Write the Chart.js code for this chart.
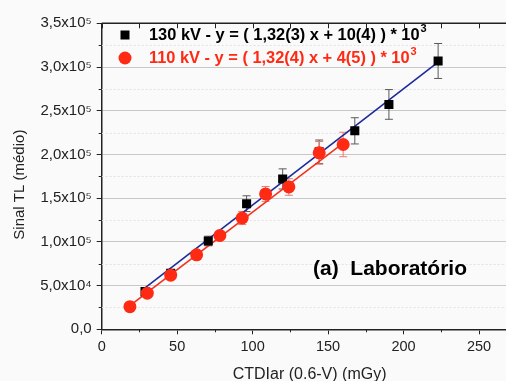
<!DOCTYPE html>
<html><head><meta charset="utf-8">
<script src="https://cdn.jsdelivr.net/npm/chart.js@4.4.1/dist/chart.umd.min.js"></script>
<style>html,body{margin:0;padding:0;background:#fafafa;overflow:hidden;}#wrap{width:524px;height:381px;position:relative;}</style>
</head><body><div id="wrap"><canvas id="c"></canvas></div>
<script>
// ---- data ----
const x130 = [28.7, 45.7, 70.6, 96.0, 119.9, 144.1, 167.7, 190.3, 222.9];
const y130 = [43100, 64200, 101000, 143700, 172000, 203000, 227000, 257200, 306900];
const err130 = [3000, 4000, 5500, 9000, 11500, 13500, 15000, 17000, 20000];
const x110 = [18.7, 30.2, 45.7, 62.9, 78.3, 93.1, 108.6, 124.0, 144.1, 160.0];
const y110 = [25900, 41300, 61900, 85200, 107300, 127300, 154800, 162800, 201800, 211400];
const err110 = [1500, 3000, 3500, 4000, 5000, 7500, 8500, 9500, 13000, 14000];
const fit130X = [28.7, 222.9];
const fit130Y = [47500, 305500];
const fit110X = [18.7, 160.0];
const fit110Y = [27000, 213000];
const xTicks = [0, 50, 100, 150, 200, 250];
const xTickLabels = ['0', '50', '100', '150', '200', '250'];
const xMinor = [25, 75, 125, 175, 225, 275];
const yTicks = [0, 50000, 100000, 150000, 200000, 250000, 300000, 350000];
const yTickLabels = ['0,0', '5,0x10⁴', '1,0x10⁵', '1,5x10⁵', '2,0x10⁵', '2,5x10⁵', '3,0x10⁵', '3,5x10⁵'];
const yMinor = [25000, 75000, 125000, 175000, 225000, 275000, 325000];
const legend130 = '130 kV - y = ( 1,32(3) x + 10(4) ) * 10';
const legend110 = '110 kV - y = ( 1,32(4) x + 4(5) ) * 10';
const legendSup = '3';
const panelLabel = '(a)  Laboratório';
const xTitle = 'CTDIar (0.6-V) (mGy)';
const yTitle = 'Sinal TL (médio)';

const RED = '#ff2a14';
const FONT = '"Liberation Sans", Arial, sans-serif';
const pts = (xs, ys) => xs.map((x, i) => ({x: x, y: ys[i]}));

const extras = {
  id: 'extras',
  beforeDatasetsDraw(chart) {
    const {ctx, chartArea: a, scales: {x, y}} = chart;
    ctx.save();
    ctx.strokeStyle = '#e2e2e2'; ctx.lineWidth = 1; ctx.setLineDash([2, 2]);
    yMinor.forEach(v => { const py = Math.round(y.getPixelForValue(v)) + 0.5;
      ctx.beginPath(); ctx.moveTo(a.left, py); ctx.lineTo(a.right, py); ctx.stroke(); });
    ctx.setLineDash([]);
    const bars = (xs, ys, es, col) => {
      ctx.strokeStyle = col; ctx.lineWidth = 1;
      xs.forEach((xv, i) => {
        const px = x.getPixelForValue(xv);
        const t = y.getPixelForValue(ys[i] + es[i]), b = y.getPixelForValue(ys[i] - es[i]);
        ctx.beginPath();
        ctx.moveTo(px, t); ctx.lineTo(px, b);
        ctx.moveTo(px - 4, t); ctx.lineTo(px + 4, t);
        ctx.moveTo(px - 4, b); ctx.lineTo(px + 4, b);
        ctx.stroke();
      });
    };
    bars(x130, y130, err130, '#5a5a5a');
    bars(x110, y110, err110, '#f07a6e');
    ctx.restore();
  },
  afterDraw(chart) {
    const {ctx, chartArea: a, scales: {x, y}} = chart;
    ctx.save();
    ctx.strokeStyle = '#222'; ctx.lineWidth = 1.5;
    ctx.beginPath(); ctx.moveTo(a.left, a.top); ctx.lineTo(a.right, a.top); ctx.stroke();
    ctx.lineWidth = 1;
    xTicks.concat(xMinor).forEach(v => { const px = Math.round(x.getPixelForValue(v)) + 0.5;
      ctx.beginPath(); ctx.moveTo(px, a.top); ctx.lineTo(px, a.top + 5); ctx.stroke(); });
    xMinor.forEach(v => { const px = Math.round(x.getPixelForValue(v)) + 0.5;
      ctx.beginPath(); ctx.moveTo(px, a.bottom); ctx.lineTo(px, a.bottom + 3); ctx.stroke(); });
    yMinor.forEach(v => { const py = Math.round(y.getPixelForValue(v)) + 0.5;
      ctx.beginPath(); ctx.moveTo(a.left, py); ctx.lineTo(a.left - 3, py); ctx.stroke(); });
    ctx.fillStyle = '#000';
    ctx.fillRect(125 - 4.5, 35 - 4.5, 9, 9);
    ctx.fillStyle = RED;
    ctx.beginPath(); ctx.arc(125, 58, 6.5, 0, Math.PI * 2); ctx.fill();
    ctx.textAlign = 'left'; ctx.textBaseline = 'middle';
    const row = (txt, yy, col) => {
      ctx.font = 'bold 16.4px ' + FONT; ctx.fillStyle = col;
      ctx.fillText(txt, 149, yy);
      const w = ctx.measureText(txt).width;
      ctx.font = 'bold 11px ' + FONT;
      ctx.fillText(legendSup, 149 + w + 1, yy - 6);
    };
    row(legend130, 35, '#000');
    row(legend110, 58, RED);
    ctx.font = 'bold 21px ' + FONT; ctx.fillStyle = '#000';
    ctx.fillText(panelLabel, 313, 269);
    ctx.restore();
  }
};

new Chart(document.getElementById('c'), {
  data: {
    datasets: [
      {type: 'scatter', label: '110 kV', data: pts(x110, y110), pointStyle: 'circle', pointRadius: 6.5,
       backgroundColor: RED, borderColor: RED, borderWidth: 0, order: 0},
      {type: 'scatter', label: '130 kV', data: pts(x130, y130), pointStyle: 'rect', pointRadius: 6.4,
       backgroundColor: '#000', borderColor: '#000', borderWidth: 0, order: 1},
      {type: 'line', label: 'fit 110', data: pts(fit110X, fit110Y), borderColor: '#f03020', borderWidth: 1.6,
       pointRadius: 0, fill: false, order: 2},
      {type: 'line', label: 'fit 130', data: pts(fit130X, fit130Y), borderColor: '#1c2a9a', borderWidth: 1.6,
       pointRadius: 0, fill: false, order: 3}
    ]
  },
  options: {
    responsive: true, maintainAspectRatio: false, animation: false,
    layout: {padding: {top: 23.3, right: 0, bottom: 0, left: 0}},
    plugins: {legend: {display: false}, tooltip: {enabled: false}},
    scales: {
      x: {
        type: 'linear', position: 'bottom', min: 0, max: 275.5,
        afterBuildTicks: s => { s.ticks = xTicks.map(v => ({value: v})); },
        afterFit: s => { s.height = 51.7; },
        ticks: {callback: (v, i) => xTickLabels[i], color: '#222', font: {family: FONT, size: 14.5}, padding: 4, maxRotation: 0},
        grid: {drawOnChartArea: false, tickLength: 5, tickColor: '#222', tickWidth: 1},
        border: {color: '#222', width: 1.5},
        title: {display: true, text: xTitle, color: '#222', font: {family: FONT, size: 16}, padding: {top: 0, bottom: -3}}
      },
      y: {
        type: 'linear', position: 'left', min: 0, max: 350000,
        afterBuildTicks: s => { s.ticks = yTicks.map(v => ({value: v})); },
        afterFit: s => { s.width = 101.7; },
        ticks: {callback: (v, i) => yTickLabels[i], color: '#222', font: {family: FONT, size: 15}, padding: 5},
        grid: {color: '#c8c8c8', lineWidth: 1, tickLength: 5, tickColor: '#222', tickWidth: 1},
        border: {color: '#222', width: 1.5},
        title: {display: true, text: yTitle + '    ', color: '#222', font: {family: FONT, size: 15}, padding: {top: 11, bottom: 0}}
      }
    }
  },
  plugins: [extras]
});
</script></body></html>
